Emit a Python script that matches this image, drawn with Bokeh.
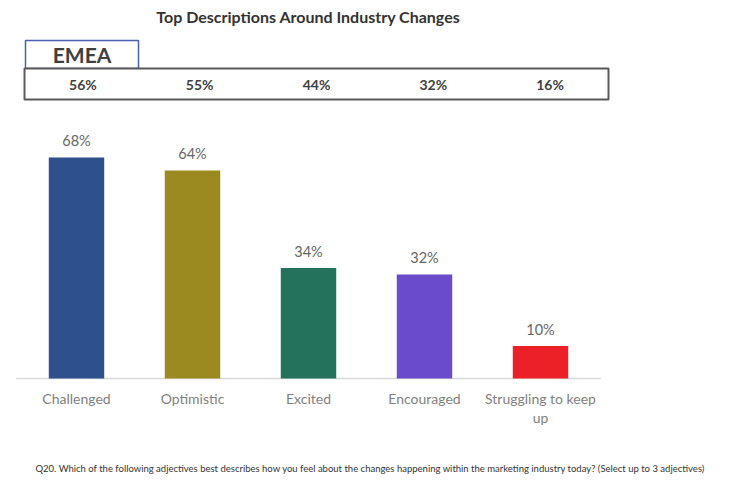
from bokeh.plotting import figure
from bokeh.models import Range1d, ColumnDataSource
from bokeh.core.properties import value
from bokeh.embed import file_html
from bokeh.resources import INLINE

# ---------------- data ----------------
categories = ["Challenged", "Optimistic", "Excited", "Encouraged", "Struggling to keep\nup"]
values = [68, 64, 34, 32, 10]
bar_colors = ["#2e508c", "#9b8a20", "#24725c", "#684cca", "#ec2127"]
region = "EMEA"
region_values = [56, 55, 44, 32, 16]
title = "Top Descriptions Around Industry Changes"
footnote = ("Q20. Which of the following adjectives best describes how you feel about the changes "
            "happening within the marketing industry today? (Select up to 3 adjectives)")

# ---------------- layout (pixels) ----------------
W, H = 750, 494
X_FIRST = 76.0      # px centre of first bar
X_STEP = 116.0      # px between bar centres
Y_ZERO = 378.0      # px of value 0
Y_SCALE = 3.25      # px per percent

def dx(px):
    return (px - X_FIRST) / X_STEP

def dy(py):
    return (Y_ZERO - py) / Y_SCALE

FONT = value("Lato")

p = figure(width=W, height=H, output_backend="svg", toolbar_location=None,
           x_range=Range1d(dx(0), dx(W)), y_range=Range1d(dy(H), dy(0)),
           x_axis_location=None, y_axis_location=None, min_border=0,
           outline_line_color=None, background_fill_color="white",
           border_fill_color="white")
p.xgrid.visible = False
p.ygrid.visible = False

idx = list(range(len(categories)))
src = ColumnDataSource(dict(
    x=idx, top=values, color=bar_colors,
    label=[f"{v}%" for v in values], cat=categories))

# baseline
p.segment(x0=[-0.5 - 0.02], y0=[0], x1=[len(categories) - 0.5 + 0.02], y1=[0],
          line_color="#d9d9d9", line_width=1.5)

# bars
p.vbar(x="x", top="top", bottom=0, width=0.478, fill_color="color",
       line_color=None, source=src)

# value labels
p.text(x="x", y="top", text="label", source=src, text_font=FONT,
       text_font_size="14.5px", text_color="#666666", text_align="center",
       text_baseline="middle", y_offset=-17)

# category labels
p.text(x="x", y=0, text="cat", source=src, text_font=FONT,
       text_font_size="14px", text_color="#7f7f7f", text_align="center",
       text_baseline="top", y_offset=11, text_line_height=1.15)

# title
p.text(x=[dx(308)], y=[dy(16)], text=[title], text_font=FONT,
       text_font_size="16px", text_font_style="bold", text_color="#333333",
       text_align="center", text_baseline="middle")

# region box
p.quad(left=[dx(25)], right=[dx(138)], top=[dy(40)], bottom=[dy(68)],
       fill_color="white", line_color="#4a62ad", line_width=1.5)
p.text(x=[dx(81.5)], y=[dy(54)], text=[region], text_font=FONT,
       text_font_size="21px", text_font_style="bold", text_color="#404040",
       text_align="center", text_baseline="middle")

# region values row
row_left, row_right = 24.0, 608.0
p.quad(left=[dx(row_left)], right=[dx(row_right)], top=[dy(68)], bottom=[dy(99)],
       fill_color="white", line_color="#595959", line_width=2)
n = len(region_values)
col_w = (row_right - row_left) / n
p.text(x=[dx(row_left + col_w * (i + 0.5)) for i in range(n)], y=[dy(84)] * n,
       text=[f"{v}%" for v in region_values], text_font=FONT,
       text_font_size="14px", text_font_style="bold", text_color="#404040",
       text_align="center", text_baseline="middle")

# footnote
p.text(x=[dx(35)], y=[dy(468)], text=[footnote], text_font=FONT,
       text_font_size="9.5px", text_color="#333333",
       text_align="left", text_baseline="middle")

open("out.html", "w").write(file_html(p, INLINE))
